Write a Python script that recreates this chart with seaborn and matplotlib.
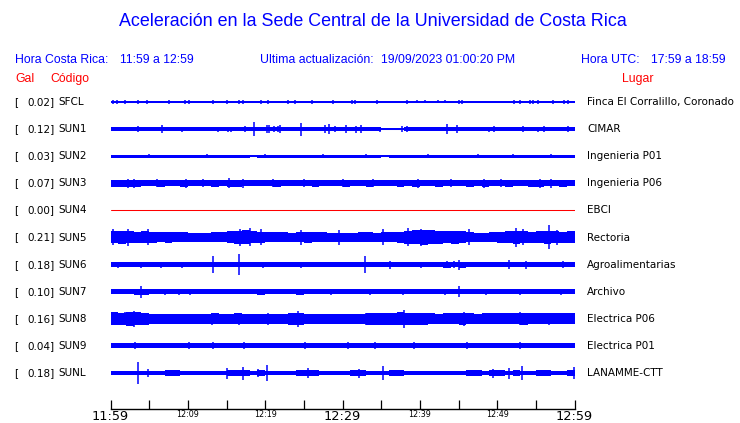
import numpy as np
import pandas as pd
import matplotlib
matplotlib.use("Agg")
import matplotlib.pyplot as plt
import matplotlib.transforms as mtransforms
import seaborn as sns

# ---------------- data ----------------
codes = ["SFCL", "SUN1", "SUN2", "SUN3", "SUN4", "SUN5", "SUN6", "SUN7", "SUN8", "SUN9", "SUNL"]
gal = [0.02, 0.12, 0.03, 0.07, 0.00, 0.21, 0.18, 0.10, 0.16, 0.04, 0.18]
places = ["Finca El Corralillo, Coronado", "CIMAR", "Ingenieria P01", "Ingenieria P06", "EBCI",
          "Rectoria", "Agroalimentarias", "Archivo", "Electrica P06", "Electrica P01", "LANAMME-CTT"]
trace_colors = ["#0000ff", "#0000ff", "#0000ff", "#0000ff", "#ff0000", "#0000ff",
                "#0000ff", "#0000ff", "#0000ff", "#0000ff", "#0000ff"]

tick_minutes = [0, 5, 10, 15, 20, 25, 30, 35, 40, 45, 50, 55, 60]
tick_labels = ["11:59", "", "12:09", "", "12:19", "", "12:29", "", "12:39", "", "12:49", "", "12:59"]
big_labels = ["11:59", "12:29", "12:59"]

# per-minute envelope (half amplitude, in screen-pixel units)
env_sfcl = [1.2, 0.5, 0.5, 0.5, 0.5, 0.5, 0.5, 0.5, 0.5, 0.5, 0.5, 0.5, 0.5, 0.5, 0.5, 0.5, 0.5, 0.5, 0.5, 0.5,
            0.5, 0.5, 0.5, 0.5, 0.5, 0.5, 0.5, 0.5, 0.5, 0.5, 0.5, 0.5, 0.5, 0.5, 0.5, 0.5, 0.5, 0.5, 0.5, 0.5,
            0.5, 0.5, 0.5, 0.5, 0.5, 0.5, 0.5, 0.5, 0.5, 0.5, 0.5, 0.5, 0.5, 0.5, 0.5, 0.5, 0.5, 0.5, 0.5, 0.5]
env_sun1 = [2.0, 2.0, 2.1, 2.0, 2.0, 1.9, 2.0, 2.0, 1.9, 1.9, 1.8, 1.8, 1.7, 1.8, 1.9, 1.9, 1.8, 1.9, 2.0, 1.9,
            2.1, 2.0, 2.1, 1.9, 1.9, 1.8, 1.9, 2.0, 2.1, 2.0, 2.1, 2.1, 2.0, 1.9, 1.8, 1.3, 1.3, 1.4, 1.9, 1.9,
            1.8, 1.9, 1.8, 1.9, 2.0, 1.9, 1.8, 1.8, 1.9, 1.9, 2.0, 1.9, 2.0, 2.0, 1.9, 2.0, 2.0, 1.9, 2.0, 2.1]
env_sun2 = [1.6, 1.5, 1.6, 1.4, 1.6, 1.5, 1.6, 1.6, 1.4, 1.5, 1.6, 1.5, 1.6, 1.6, 1.5, 1.4, 1.6, 1.5, 1.2, 1.5,
            1.6, 1.6, 1.5, 1.6, 1.4, 1.5, 1.6, 1.6, 1.5, 1.6, 1.4, 1.5, 1.6, 1.6, 1.5, 1.3, 1.5, 1.6, 1.6, 1.5,
            1.4, 1.6, 1.6, 1.5, 1.4, 1.6, 1.6, 1.5, 1.6, 1.4, 1.6, 1.6, 1.5, 1.6, 1.6, 1.5, 1.6, 1.6, 1.6, 1.6]
env_sun3 = [3.4, 3.3, 3.4, 3.3, 3.2, 3.2, 3.3, 3.1, 3.2, 3.3, 3.2, 3.1, 3.2, 3.3, 3.2, 3.4, 3.3, 3.2, 3.1, 3.2,
            3.2, 3.3, 3.2, 3.1, 3.2, 3.2, 3.3, 3.2, 3.1, 3.2, 3.3, 3.2, 3.2, 3.3, 3.1, 3.2, 3.2, 3.3, 3.2, 3.3,
            3.2, 3.2, 3.3, 3.2, 3.1, 3.2, 3.3, 3.2, 3.3, 3.2, 3.2, 3.3, 3.2, 3.2, 3.3, 3.3, 3.2, 3.2, 3.3, 3.2]
env_sun4 = [0.0, 0.0, 0.0, 0.0, 0.0, 0.0, 0.0, 0.0, 0.0, 0.0, 0.0, 0.0, 0.0, 0.0, 0.0, 0.0, 0.0, 0.0, 0.0, 0.0,
            0.0, 0.0, 0.0, 0.0, 0.0, 0.0, 0.0, 0.0, 0.0, 0.0, 0.0, 0.0, 0.0, 0.0, 0.0, 0.0, 0.0, 0.0, 0.0, 0.0,
            0.0, 0.0, 0.0, 0.0, 0.0, 0.0, 0.0, 0.0, 0.0, 0.0, 0.0, 0.0, 0.0, 0.0, 0.0, 0.0, 0.0, 0.0, 0.0, 0.0]
env_sun5 = [6.0, 6.5, 6.0, 5.5, 6.0, 5.5, 5.0, 5.5, 5.0, 5.0, 4.5, 4.5, 4.5, 5.0, 5.0, 6.0, 6.5, 7.0, 6.0, 5.5,
            5.0, 5.0, 5.0, 4.5, 5.0, 5.5, 5.0, 5.0, 4.5, 4.5, 4.5, 4.5, 5.0, 5.0, 4.5, 5.0, 5.0, 5.5, 6.5, 7.0,
            7.5, 7.0, 6.5, 6.0, 6.5, 6.0, 5.0, 4.5, 4.5, 5.0, 5.5, 6.0, 6.5, 6.0, 5.5, 6.0, 6.5, 6.0, 5.5, 6.0]
env_sun6 = [2.1, 2.5, 2.1, 2.1, 2.4, 2.1, 2.4, 2.1, 2.1, 2.4, 2.1, 2.1, 2.1, 2.6, 2.1, 2.1, 2.6, 2.1, 2.1, 2.4,
            2.1, 2.1, 2.1, 2.1, 2.4, 2.1, 2.1, 2.1, 2.1, 2.1, 2.1, 2.1, 2.4, 2.1, 2.1, 2.1, 2.4, 2.1, 2.1, 2.1,
            2.4, 2.1, 2.8, 3.0, 2.8, 3.0, 2.1, 2.1, 2.1, 2.4, 2.1, 2.4, 2.1, 2.4, 2.1, 2.1, 2.1, 2.4, 2.1, 2.2]
env_sun7 = [2.3, 2.4, 2.3, 3.0, 3.0, 2.3, 2.3, 2.6, 2.6, 2.6, 2.3, 2.3, 2.4, 2.3, 2.3, 2.4, 2.3, 2.3, 2.3, 2.8,
            2.3, 2.3, 2.4, 2.3, 2.8, 2.4, 2.3, 2.3, 2.5, 2.3, 2.3, 2.4, 2.3, 2.5, 2.3, 2.3, 2.4, 2.5, 2.3, 2.3,
            2.4, 2.3, 2.3, 2.5, 2.3, 2.5, 2.7, 2.7, 2.7, 2.6, 2.7, 2.7, 2.6, 2.7, 2.6, 2.6, 2.6, 2.6, 2.6, 2.6]
env_sun8 = [6.5, 6.3, 6.8, 6.5, 6.0, 5.2, 5.0, 5.2, 5.0, 5.2, 5.3, 5.0, 5.2, 5.5, 5.0, 5.2, 5.5, 5.0, 5.2, 5.0,
            5.2, 5.0, 5.2, 6.0, 6.0, 5.0, 5.2, 5.0, 4.8, 5.0, 5.2, 5.0, 5.3, 6.0, 6.0, 5.8, 6.2, 6.5, 6.0, 5.8,
            6.0, 5.5, 5.3, 5.5, 5.6, 5.8, 5.5, 5.3, 5.5, 5.5, 5.6, 5.5, 5.5, 5.8, 5.5, 5.6, 5.5, 5.5, 5.6, 5.5]
env_sun9 = [2.5, 2.4, 2.4, 2.5, 2.4, 2.4, 2.4, 2.5, 2.4, 2.4, 2.4, 2.4, 2.5, 2.4, 2.4, 2.4, 2.4, 2.5, 2.4, 2.4,
            2.4, 2.4, 2.4, 2.5, 2.4, 2.4, 2.4, 2.4, 2.4, 2.4, 2.5, 2.4, 2.4, 2.4, 2.4, 2.4, 2.4, 2.4, 2.5, 2.4,
            2.4, 2.4, 2.4, 2.4, 2.4, 2.5, 2.4, 2.4, 2.4, 2.4, 2.4, 2.4, 2.5, 2.4, 2.4, 2.4, 2.4, 2.4, 2.4, 2.5]
env_sunl = [2.2, 2.4, 2.2, 2.4, 2.2, 2.4, 2.2, 3.2, 3.2, 2.2, 2.2, 2.4, 2.2, 2.2, 2.4, 3.2, 3.2, 3.2, 2.4, 2.6,
            2.4, 2.2, 2.2, 2.4, 3.2, 3.2, 3.2, 2.4, 2.2, 2.2, 2.4, 3.0, 3.0, 2.2, 2.4, 2.4, 3.0, 3.0, 2.2, 2.4,
            2.2, 2.2, 2.4, 2.2, 2.4, 2.2, 3.0, 3.0, 2.4, 3.2, 3.2, 2.4, 2.6, 2.4, 2.2, 3.0, 3.0, 2.4, 2.4, 3.0]

# spikes: (minute after 11:59, half amplitude in pixel units)
spk_sfcl = [(0.3, 1.8), (0.8, 2.0), (1.9, 2.0), (3.6, 2.0), (4.7, 1.8), (7.6, 2.0), (9.6, 2.2), (10.2, 2.0),
            (13.2, 1.8), (15.1, 2.0), (16.6, 1.8), (17.1, 2.0), (19.5, 1.8), (20.4, 2.2), (23.0, 1.8),
            (23.8, 2.0), (26.1, 1.8), (28.8, 2.0), (31.2, 2.2), (31.6, 2.0), (34.5, 2.0), (38.4, 2.0),
            (39.6, 1.5), (40.7, 1.5), (42.3, 1.5), (43.3, 1.5), (45.0, 2.0), (45.5, 2.2), (52.2, 2.0),
            (53.0, 2.0), (54.2, 2.0), (54.6, 2.0), (55.3, 1.8), (57.2, 2.0), (58.6, 2.0), (59.2, 1.8)]
spk_sun1 = [(3.6, 3.0), (6.7, 4.0), (9.3, 2.5), (13.9, 2.5), (15.2, 2.5), (15.6, 2.5), (17.4, 3.0),
            (18.5, 7.3), (20.2, 4.0), (20.5, 4.0), (21.2, 3.0), (21.6, 3.0), (21.9, 4.0), (24.6, 6.5),
            (27.8, 4.0), (28.2, 5.0), (29.0, 3.0), (30.5, 4.0), (31.7, 3.5), (32.4, 4.0), (34.9, 2.5),
            (37.7, 3.0), (38.4, 3.0), (43.5, 5.0), (44.8, 4.0), (48.9, 2.5), (49.6, 3.0), (53.4, 3.0),
            (55.3, 2.5), (56.1, 3.0), (59.1, 3.0)]
spk_sun2 = [(5.0, 2.2), (12.5, 2.2), (20.0, 2.2), (27.5, 2.2), (33.0, 2.2), (41.0, 2.2), (47.5, 2.2),
            (52.0, 2.2), (57.0, 2.2)]
spk_sun3 = [(2.3, 4.5), (3.1, 4.5), (6.0, 4.0), (9.7, 4.5), (12.0, 4.0), (15.3, 5.0), (17.1, 4.5),
            (21.0, 4.0), (25.0, 4.0), (30.0, 4.0), (34.0, 4.0), (39.7, 4.5), (44.0, 4.0), (48.3, 4.5),
            (50.5, 4.0), (55.6, 4.5), (56.9, 4.5)]
spk_sun4 = []
spk_sun5 = [(0.3, 8.0), (2.3, 8.5), (4.9, 8.0), (16.8, 8.5), (18.1, 9.0), (19.4, 8.0), (24.6, 7.5),
            (29.5, 7.5), (35.3, 8.0), (38.5, 9.0), (40.1, 8.5), (46.3, 8.0), (52.4, 9.5), (53.4, 8.0),
            (56.7, 12.0), (57.7, 7.5)]
spk_sun6 = [(1.0, 3.0), (3.9, 3.0), (6.5, 3.0), (9.2, 3.0), (13.3, 8.7), (16.6, 10.8), (19.7, 3.0),
            (24.6, 3.0), (32.9, 8.3), (36.2, 4.0), (40.1, 3.0), (43.5, 3.5), (44.4, 3.5), (45.0, 5.0),
            (51.5, 4.5), (53.7, 4.0), (58.5, 3.5)]
spk_sun7 = [(4.0, 5.8), (7.1, 3.2), (8.8, 3.2), (10.3, 3.2), (19.1, 3.2), (24.6, 3.2), (28.5, 3.2),
            (33.6, 3.2), (37.8, 3.2), (43.3, 3.2), (45.0, 5.3), (48.5, 3.2), (53.0, 3.2), (58.2, 3.2)]
spk_sun8 = [(1.3, 6.0), (1.9, 6.5), (3.1, 7.8), (13.1, 6.0), (16.6, 6.0), (20.4, 6.0), (24.3, 8.0),
            (33.0, 6.0), (37.9, 9.0), (45.7, 7.0), (53.0, 6.5), (56.7, 6.0)]
spk_sun9 = [(3.2, 3.5), (10.1, 3.5), (13.2, 3.5), (17.2, 3.5), (25.2, 3.5), (30.7, 3.5), (34.2, 3.5),
            (39.3, 3.5), (46.1, 3.5), (53.0, 3.5)]
spk_sunl = [(3.5, 11.0), (4.8, 3.8), (15.1, 5.5), (17.1, 6.5), (19.1, 4.0), (20.2, 7.8), (25.6, 5.0),
            (32.1, 4.5), (35.3, 7.0), (49.5, 4.5), (51.5, 5.5), (53.2, 7.0), (59.9, 6.0)]

envelopes = [env_sfcl, env_sun1, env_sun2, env_sun3, env_sun4, env_sun5,
             env_sun6, env_sun7, env_sun8, env_sun9, env_sunl]
spikes = [spk_sfcl, spk_sun1, spk_sun2, spk_sun3, spk_sun4, spk_sun5,
          spk_sun6, spk_sun7, spk_sun8, spk_sun9, spk_sunl]

# ---------------- layout ----------------
W, H = 740, 423
sns.set_style("white")
plt.rcParams["font.family"] = ["DejaVu Sans"]

fig = plt.figure(figsize=(W / 100, H / 100), dpi=100)
ax_left, ax_right, ax_top, ax_bot = 110.5, 574.5, 88.0, 409.0
row0_px, row_px = 102.0, 27.1
ax = fig.add_axes([ax_left / W, 1 - ax_bot / H, (ax_right - ax_left) / W, (ax_bot - ax_top) / H])

# center lines via seaborn
rows = []
for i, c in enumerate(codes):
    rows.append({"minute": 0, "row": i, "code": c})
    rows.append({"minute": 60, "row": i, "code": c})
df = pd.DataFrame(rows)
sns.lineplot(data=df, x="minute", y="row", hue="code", palette=dict(zip(codes, trace_colors)),
             legend=False, ax=ax, linewidth=0.75, estimator=None)

edges = np.arange(61)
for i, (env, spk, col) in enumerate(zip(envelopes, spikes, trace_colors)):
    e = np.array(env + [env[-1]]) / row_px
    ax.fill_between(edges, i - e, i + e, step="post", color=col, linewidth=0)
    if spk:
        t = [s[0] for s in spk]
        h = np.array([s[1] for s in spk]) / row_px
        ax.vlines(t, i - h, i + h, color=col, linewidth=1.1)

ax.set_xlim(0, 60)
ax.set_ylim((ax_bot - row0_px) / row_px, -(row0_px - ax_top) / row_px)
ax.set_xlabel("")
ax.set_ylabel("")
ax.set_yticks([])
for s in ["left", "top", "right"]:
    ax.spines[s].set_visible(False)
ax.spines["bottom"].set_color("black")
ax.spines["bottom"].set_linewidth(1.0)
ax.set_xticks(tick_minutes)
ax.set_xticklabels(tick_labels)
ax.tick_params(axis="x", bottom=True, direction="in", length=6.5, width=0.9, color="black",
               pad=0.5, labelcolor="black")
for lab in ax.get_xticklabels():
    lab.set_fontsize(9.3 if lab.get_text() in big_labels else 5.8)
ax.set_facecolor("white")
ax.grid(False)

# station labels
trans = mtransforms.blended_transform_factory(fig.transFigure, ax.transData)
for i, (c, g, p) in enumerate(zip(codes, gal, places)):
    ax.text(14 / W, i, "[", transform=trans, ha="left", va="center", fontsize=7.5, color="black")
    ax.text(54.5 / W, i, f"{g:.2f}]", transform=trans, ha="right", va="center", fontsize=7.5, color="black")
    ax.text(58 / W, i, c, transform=trans, ha="left", va="center", fontsize=7.5, color="black")
    ax.text(587 / W, i, p, transform=trans, ha="left", va="center", fontsize=7.5, color="black")

# header texts
hf = "Liberation Sans"
blue = "#0000ff"
red = "#ff0000"
fig.text(373 / W, 1 - 22 / H, "Aceleración en la Sede Central de la Universidad de Costa Rica",
         ha="center", va="center", fontsize=12.9, color=blue, family=hf)
hy = 1 - 60 / H
fig.text(15 / W, hy, "Hora Costa Rica:", ha="left", va="center", fontsize=8.8, color=blue, family=hf)
fig.text(120 / W, hy, "11:59 a 12:59", ha="left", va="center", fontsize=8.8, color=blue, family=hf)
fig.text(260 / W, hy, "Ultima actualización:", ha="left", va="center", fontsize=8.8, color=blue, family=hf)
fig.text(381 / W, hy, "19/09/2023 01:00:20 PM", ha="left", va="center", fontsize=8.8, color=blue, family=hf)
fig.text(581 / W, hy, "Hora UTC:", ha="left", va="center", fontsize=8.8, color=blue, family=hf)
fig.text(651 / W, hy, "17:59 a 18:59", ha="left", va="center", fontsize=8.8, color=blue, family=hf)
gy = 1 - 79 / H
fig.text(15 / W, gy, "Gal", ha="left", va="center", fontsize=8.8, color=red, family=hf)
fig.text(50 / W, gy, "Código", ha="left", va="center", fontsize=8.8, color=red, family=hf)
fig.text(622 / W, gy, "Lugar", ha="left", va="center", fontsize=8.8, color=red, family=hf)

fig.savefig("out.png", dpi=100, facecolor="white")
